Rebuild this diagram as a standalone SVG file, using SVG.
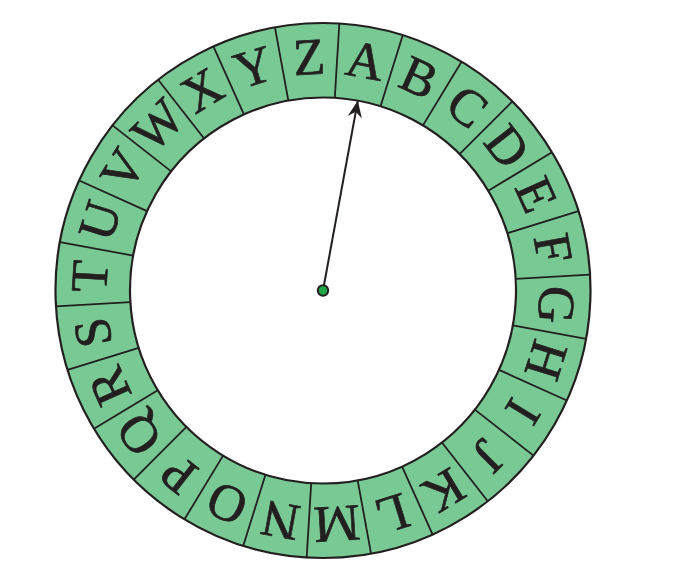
<svg xmlns="http://www.w3.org/2000/svg" width="676" height="582" viewBox="0 0 676 582">
<defs>
<style>
.ring{fill:#78c993;fill-rule:evenodd;stroke:#231f20;stroke-width:2.2}
.div{stroke:#231f20;stroke-width:1.8}
.lt{font-family:"Liberation Serif","Times New Roman",serif;font-size:52px;fill:#231f20;stroke:#231f20;stroke-width:0.7;text-anchor:middle}
.conn{stroke:#231f20;stroke-width:2;fill:none}
</style>
<marker id="ah" markerUnits="userSpaceOnUse" markerWidth="20" markerHeight="20" viewBox="-16 -8 18 16" refX="0" refY="0" orient="auto">
<path d="M0,0 L-15,-6.5 L-10,0 L-15,6.5 Z" fill="#231f20"/>
</marker>
</defs>
<rect width="676" height="582" fill="#ffffff"/>
<g id="ring">
<path class="ring" d="M323,23 A267.5,267.5 0 1,1 322.99,23 Z M323,97.5 A193,193 0 1,0 323.01,97.5 Z"/>
<g class="div">
<line x1="323" y1="97.5" x2="323" y2="23" transform="rotate(3.5 323 290.5)"/>
<line x1="323" y1="97.5" x2="323" y2="23" transform="rotate(17.346 323 290.5)"/>
<line x1="323" y1="97.5" x2="323" y2="23" transform="rotate(31.192 323 290.5)"/>
<line x1="323" y1="97.5" x2="323" y2="23" transform="rotate(45.038 323 290.5)"/>
<line x1="323" y1="97.5" x2="323" y2="23" transform="rotate(58.885 323 290.5)"/>
<line x1="323" y1="97.5" x2="323" y2="23" transform="rotate(72.731 323 290.5)"/>
<line x1="323" y1="97.5" x2="323" y2="23" transform="rotate(86.577 323 290.5)"/>
<line x1="323" y1="97.5" x2="323" y2="23" transform="rotate(100.423 323 290.5)"/>
<line x1="323" y1="97.5" x2="323" y2="23" transform="rotate(114.269 323 290.5)"/>
<line x1="323" y1="97.5" x2="323" y2="23" transform="rotate(128.115 323 290.5)"/>
<line x1="323" y1="97.5" x2="323" y2="23" transform="rotate(141.962 323 290.5)"/>
<line x1="323" y1="97.5" x2="323" y2="23" transform="rotate(155.808 323 290.5)"/>
<line x1="323" y1="97.5" x2="323" y2="23" transform="rotate(169.654 323 290.5)"/>
<line x1="323" y1="97.5" x2="323" y2="23" transform="rotate(183.5 323 290.5)"/>
<line x1="323" y1="97.5" x2="323" y2="23" transform="rotate(197.346 323 290.5)"/>
<line x1="323" y1="97.5" x2="323" y2="23" transform="rotate(211.192 323 290.5)"/>
<line x1="323" y1="97.5" x2="323" y2="23" transform="rotate(225.038 323 290.5)"/>
<line x1="323" y1="97.5" x2="323" y2="23" transform="rotate(238.885 323 290.5)"/>
<line x1="323" y1="97.5" x2="323" y2="23" transform="rotate(252.731 323 290.5)"/>
<line x1="323" y1="97.5" x2="323" y2="23" transform="rotate(266.577 323 290.5)"/>
<line x1="323" y1="97.5" x2="323" y2="23" transform="rotate(280.423 323 290.5)"/>
<line x1="323" y1="97.5" x2="323" y2="23" transform="rotate(294.269 323 290.5)"/>
<line x1="323" y1="97.5" x2="323" y2="23" transform="rotate(308.115 323 290.5)"/>
<line x1="323" y1="97.5" x2="323" y2="23" transform="rotate(321.962 323 290.5)"/>
<line x1="323" y1="97.5" x2="323" y2="23" transform="rotate(335.808 323 290.5)"/>
<line x1="323" y1="97.5" x2="323" y2="23" transform="rotate(349.654 323 290.5)"/>
</g>
</g>
<g id="letters" class="lt">
<g id="A"><text x="323" y="74" transform="rotate(10.42 323 290.5)">A</text></g>
<g id="B"><text x="323" y="74" transform="rotate(24.27 323 290.5)">B</text></g>
<g id="C"><text x="323" y="74" transform="rotate(38.12 323 290.5)">C</text></g>
<g id="D"><text x="323" y="74" transform="rotate(51.96 323 290.5)">D</text></g>
<g id="E"><text x="323" y="74" transform="rotate(65.81 323 290.5)">E</text></g>
<g id="F"><text x="323" y="74" transform="rotate(79.65 323 290.5)">F</text></g>
<g id="G"><text x="323" y="74" transform="rotate(93.5 323 290.5)">G</text></g>
<g id="H"><text x="323" y="74" transform="rotate(107.35 323 290.5)">H</text></g>
<g id="I"><text x="323" y="74" transform="rotate(121.19 323 290.5)">I</text></g>
<g id="J"><text x="323" y="74" transform="rotate(135.04 323 290.5)">J</text></g>
<g id="K"><text x="323" y="74" transform="rotate(148.88 323 290.5)">K</text></g>
<g id="L"><text x="323" y="74" transform="rotate(162.73 323 290.5)">L</text></g>
<g id="M"><text x="323" y="74" transform="rotate(176.58 323 290.5)">M</text></g>
<g id="N"><text x="323" y="74" transform="rotate(190.42 323 290.5)">N</text></g>
<g id="O"><text x="323" y="74" transform="rotate(204.27 323 290.5)">O</text></g>
<g id="P"><text x="323" y="74" transform="rotate(218.12 323 290.5)">P</text></g>
<g id="Q"><text x="323" y="74" transform="rotate(231.96 323 290.5)">Q</text></g>
<g id="R"><text x="323" y="74" transform="rotate(245.81 323 290.5)">R</text></g>
<g id="S"><text x="323" y="74" transform="rotate(259.65 323 290.5)">S</text></g>
<g id="T"><text x="323" y="74" transform="rotate(273.5 323 290.5)">T</text></g>
<g id="U"><text x="323" y="74" transform="rotate(287.35 323 290.5)">U</text></g>
<g id="V"><text x="323" y="74" transform="rotate(301.19 323 290.5)">V</text></g>
<g id="W"><text x="323" y="74" transform="rotate(315.04 323 290.5)">W</text></g>
<g id="X"><text x="323" y="74" transform="rotate(328.88 323 290.5)">X</text></g>
<g id="Y"><text x="323" y="74" transform="rotate(342.73 323 290.5)">Y</text></g>
<g id="Z"><text x="323" y="74" transform="rotate(356.58 323 290.5)">Z</text></g>
</g>
<g id="connectors">
<line class="conn" x1="323" y1="290.5" x2="357.8" y2="100.8" marker-end="url(#ah)"/>
</g>
<g id="hub">
<circle cx="323" cy="290.5" r="5.2" fill="#22a84a" stroke="#231f20" stroke-width="2"/>
</g>
</svg>
